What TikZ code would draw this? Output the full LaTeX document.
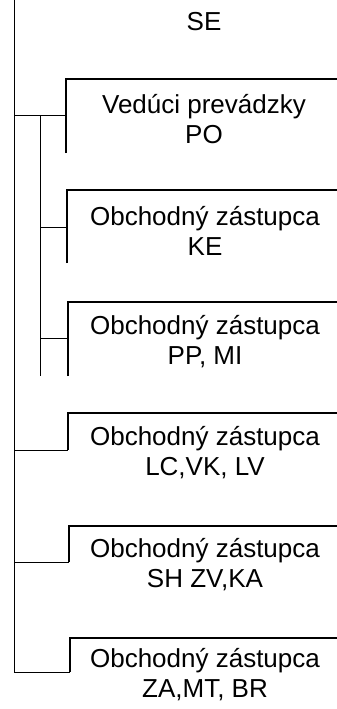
\documentclass[tikz,border=0pt]{standalone}
\usepackage{fontspec}
\setmainfont{Liberation Sans}
\begin{document}
\begin{tikzpicture}[x=1pt,y=-1pt,
  txt/.style={align=center, font=\fontsize{26}{30}\selectfont, inner sep=0pt},
  boxline/.style={line width=1.6pt},
  conn/.style={line width=0.8pt}]
\useasboundingbox (0,0) rectangle (337,709);
% texts
\node[txt] (se) at (204,22) {SE};
\node[txt] (b1) at (204,119) {Vedúci prevádzky\\PO};
\node[txt] (b2) at (205,231) {Obchodný zástupca\\KE};
\node[txt] (b3) at (205,342) {Obchodný zástupca\\PP, MI};
\node[txt] (b4) at (205,453) {Obchodný zástupca\\LC,VK, LV};
\node[txt] (b5) at (205,565) {Obchodný zástupca\\SH ZV,KA};
\node[txt] (b6) at (205,675) {Obchodný zástupca\\ZA,MT, BR};
% box corners
\coordinate (t1) at (66,79);  \coordinate (l1) at (66,153); \coordinate (r1) at (337,79);
\coordinate (t2) at (67,190); \coordinate (l2) at (67,263); \coordinate (r2) at (337,190);
\coordinate (t3) at (68,302); \coordinate (l3) at (68,376); \coordinate (r3) at (337,302);
\coordinate (t4) at (68,413); \coordinate (l4) at (68,450); \coordinate (r4) at (337,413);
\coordinate (t5) at (69,526); \coordinate (l5) at (69,562); \coordinate (r5) at (337,526);
\coordinate (t6) at (70,638); \coordinate (l6) at (70,672); \coordinate (r6) at (337,638);
\foreach \i in {1,...,6} {\draw[boxline] (l\i) -- (t\i) -- (r\i);}
% trunk lines
\coordinate (top) at (14,0);
\coordinate (m1) at (14,115);
\coordinate (m4) at (14,450);
\coordinate (m5) at (14,562);
\coordinate (m6) at (14,672);
\coordinate (s1) at (40,115);
\coordinate (s2) at (40,227);
\coordinate (s3) at (40,338);
\coordinate (s3e) at (40,376);
\draw[conn] (top) -- (m6);
\draw[conn] (s1) -- (s3e);
% branches
\draw[conn] (m1) -- (t1 |- m1);
\draw[conn] (s2) -- (t2 |- s2);
\draw[conn] (s3) -- (t3 |- s3);
\draw[conn] (m4) -- (l4);
\draw[conn] (m5) -- (l5);
\draw[conn] (m6) -- (l6);
\end{tikzpicture}
\end{document}
